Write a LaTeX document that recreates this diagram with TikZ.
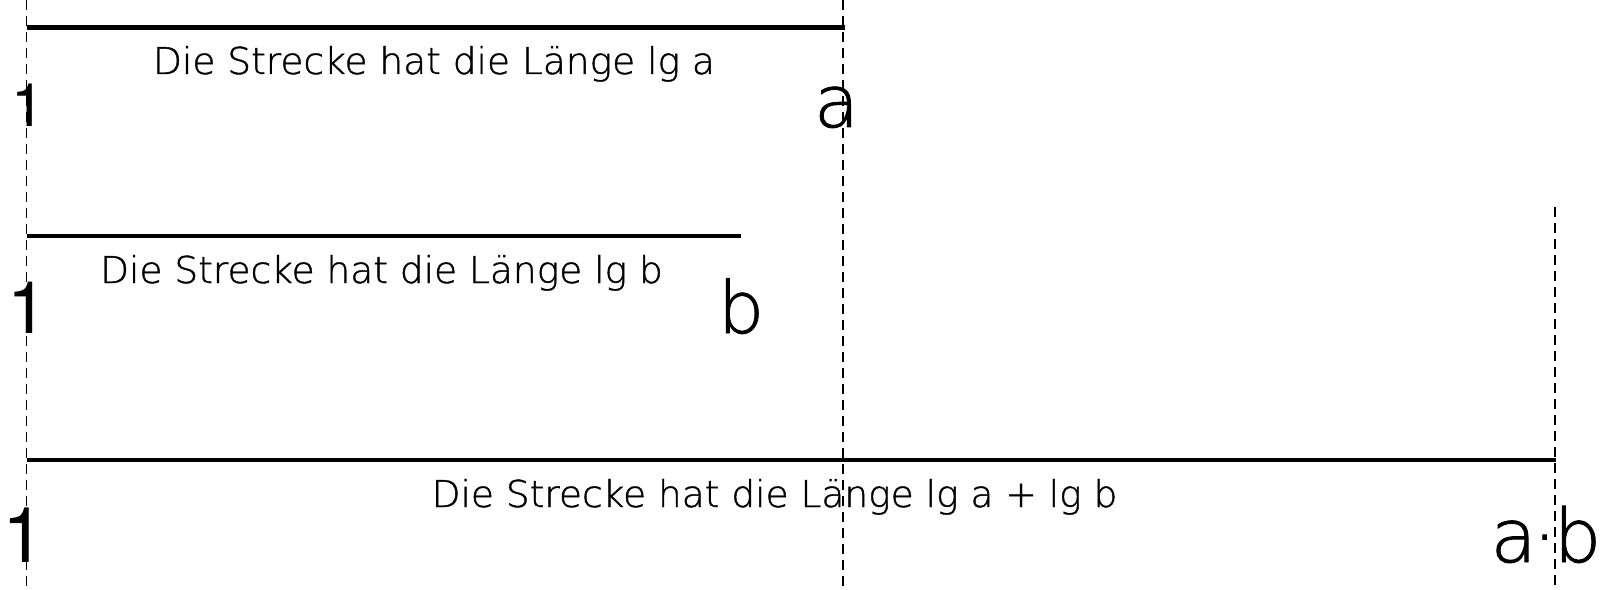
\documentclass[tikz,border=0pt]{standalone}
\usepackage{fontspec}
\setmainfont{DejaVu Sans ExtraLight}[FakeBold=1.1,FakeStretch=1.016]
\newfontfamily\digitfont{TeX Gyre Heros}
\begin{document}
\begin{tikzpicture}[x=1bp,y=-1bp,
  guide/.style={line width=1.7bp,dash pattern=on 10bp off 6bp},
  segment/.style={line width=4.5bp},
  caption/.style={inner sep=0pt,anchor=base,font=\fontsize{36.9bp}{44bp}\selectfont},
  endlabel/.style={inner sep=0pt,anchor=base},
  startlabel/.style={inner sep=0pt,anchor=base west},
  ]
  \useasboundingbox (0,0) rectangle (1607,590);

  % vertical guides at 1, a and a*b
  \coordinate (g1t) at (26.5,0);    \coordinate (g1b) at (26.5,590);
  \coordinate (gat) at (843,0);     \coordinate (gab) at (843,590);
  \coordinate (gct) at (1555,207);  \coordinate (gcb) at (1555,590);
  \draw[guide] (g1t) -- (g1b);
  \draw[guide] (gat) -- (gab);
  \draw[guide] (gct) -- (gcb);

  % segments of length lg a, lg b and lg a + lg b
  \coordinate (s1a) at (27,27.5);  \coordinate (s1b) at (845,27.5);
  \coordinate (s2a) at (27,236);   \coordinate (s2b) at (741,236);
  \coordinate (s3a) at (27,460);   \coordinate (s3b) at (1556,460);
  \draw[segment] (s1a) -- (s1b);
  \draw[segment] (s2a) -- (s2b);
  \draw[segment] (s3a) -- (s3b);

  % captions
  \node[caption] (c1) at (434,74) {Die Strecke hat die Länge lg a};
  \node[caption] (c2) at (381.5,283) {Die Strecke hat die Länge lg b};
  \node[caption] (c3) at (774.5,507) {Die Strecke hat die Länge lg a + lg b};

  % end labels
  \node[startlabel,font=\digitfont\fontsize{60bp}{62bp}\selectfont] (one1) at (11.5,127) {1};
  \node[endlabel,font=\fontsize{72bp}{74bp}\selectfont] (la) at (836.5,127) {a};
  \node[startlabel,font=\digitfont\fontsize{72.5bp}{74bp}\selectfont] (one2) at (7,333) {1};
  \node[endlabel,font=\fontsize{72bp}{74bp}\selectfont] (lb) at (741,333) {b};
  \node[startlabel,font=\digitfont\fontsize{77bp}{79bp}\selectfont] (one3) at (2.4,562) {1};
  \node[endlabel,anchor=base east,font=\fontsize{74bp}{76bp}\selectfont] (lab) at (1601.5,562) {a\kern-4bp·\kern-3bp b};
\end{tikzpicture}
\end{document}
